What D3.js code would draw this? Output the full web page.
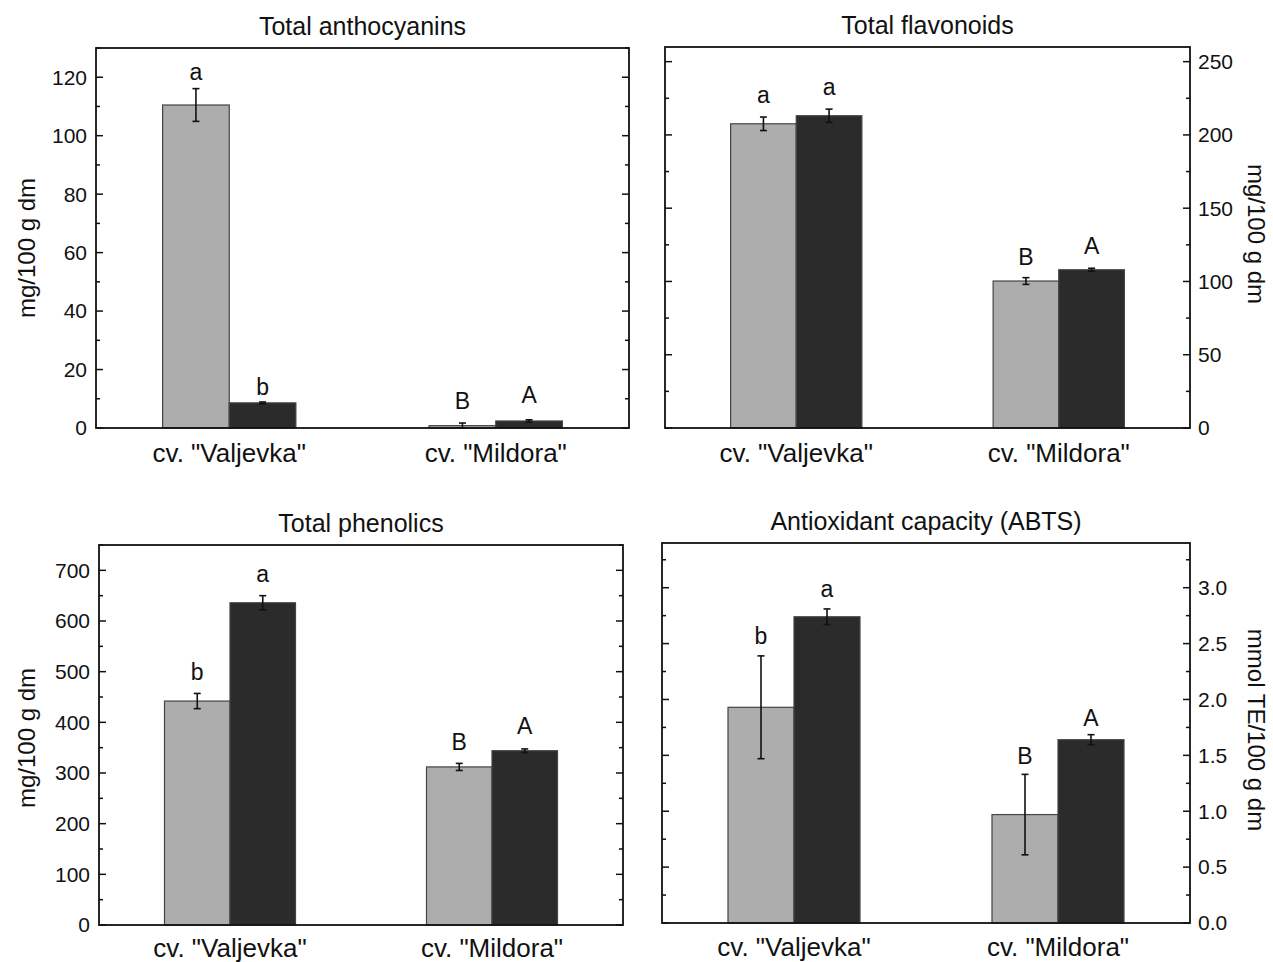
<!DOCTYPE html>
<html><head><meta charset="utf-8">
<script src="https://cdn.jsdelivr.net/npm/d3@7"></script>
<style>
body{margin:0;background:#fff;}
svg{display:block;font-family:"Liberation Sans",Arial,sans-serif;}
</style></head>
<body>
<svg id="c" width="1273" height="962"></svg>
<script>
// ---------- DATA ----------
const categories = ['cv. "Valjevka"', 'cv. "Mildora"'];
const titles = ["Total anthocyanins", "Total flavonoids", "Total phenolics", "Antioxidant capacity (ABTS)"];
const yTitles = ["mg/100 g dm", "mg/100 g dm", "mg/100 g dm", "mmol TE/100 g dm"];

// light (grey) and dark series per panel, values per category
const anthocyaninsLight = [110.5, 0.8];
const anthocyaninsDark  = [8.6, 2.4];
const anthocyaninsLightErr = [5.6, 0.9];
const anthocyaninsDarkErr  = [0.3, 0.4];
const anthocyaninsLetters = [["a", "b"], ["B", "A"]];
const anthocyaninsLetterAt = [[119.2, 11.3], [6.5, 8.5]];

const flavonoidsLight = [207.6, 100.3];
const flavonoidsDark  = [213.1, 108.0];
const flavonoidsLightErr = [4.6, 2.3];
const flavonoidsDarkErr  = [4.5, 1.0];
const flavonoidsLetters = [["a", "a"], ["B", "A"]];
const flavonoidsLetterAt = [[221.8, 227.0], [111.4, 118.5]];

const phenolicsLight = [442, 312];
const phenolicsDark  = [636, 344];
const phenolicsLightErr = [15, 7];
const phenolicsDarkErr  = [14, 3.5];
const phenolicsLetters = [["b", "a"], ["B", "A"]];
const phenolicsLetterAt = [[484, 676], [345, 377]];

const abtsLight = [1.93, 0.97];
const abtsDark  = [2.74, 1.64];
const abtsLightErr = [0.46, 0.36];
const abtsDarkErr  = [0.07, 0.045];
const abtsLetters = [["b", "a"], ["B", "A"]];
const abtsLetterAt = [[2.50, 2.92], [1.425, 1.76]];

const yDomains = [[0, 130], [0, 260], [0, 750], [0, 3.4]];
const yMajor = [20, 50, 100, 0.5];
const yMinor = [10, 25, 50, 0.25];
const yMaxTick = [120, 250, 700, 3.0];

// ---------- LAYOUT ----------
const panels = [
  {x0: 96,  x1: 629,  y0: 48,  y1: 428, side: "left",  light: anthocyaninsLight, dark: anthocyaninsDark, le: anthocyaninsLightErr, de: anthocyaninsDarkErr, letters: anthocyaninsLetters, letterAt: anthocyaninsLetterAt, fmt: d3.format("d"), ytx: 27, yty: 248, catDy: 34},
  {x0: 665, x1: 1190, y0: 47,  y1: 428, side: "right", light: flavonoidsLight, dark: flavonoidsDark, le: flavonoidsLightErr, de: flavonoidsDarkErr, letters: flavonoidsLetters, letterAt: flavonoidsLetterAt, fmt: d3.format("d"), ytx: 1256, yty: 234, catDy: 34},
  {x0: 99,  x1: 623,  y0: 545, y1: 925, side: "left",  light: phenolicsLight, dark: phenolicsDark, le: phenolicsLightErr, de: phenolicsDarkErr, letters: phenolicsLetters, letterAt: phenolicsLetterAt, fmt: d3.format("d"), ytx: 27, yty: 738, catDy: 32},
  {x0: 662, x1: 1190, y0: 543, y1: 923, side: "right", light: abtsLight, dark: abtsDark, le: abtsLightErr, de: abtsDarkErr, letters: abtsLetters, letterAt: abtsLetterAt, fmt: d3.format(".1f"), ytx: 1256, yty: 730, catDy: 33}
];

const svg = d3.select("#c");
const LIGHT = "#adadad", DARK = "#2b2b2b";

panels.forEach((p, i) => {
  const g = svg.append("g");
  const x = d3.scaleLinear().domain([0, 2]).range([p.x0, p.x1]);
  const y = d3.scaleLinear().domain(yDomains[i]).range([p.y1, p.y0]);

  const series = [
    {vals: p.light, errs: p.le, fill: LIGHT, off: 0.25},
    {vals: p.dark,  errs: p.de, fill: DARK,  off: 0.5}
  ];
  series.forEach((s) => {
    s.vals.forEach((v, ci) => {
      g.append("rect")
        .attr("x", x(ci + s.off)).attr("width", x(ci + s.off + 0.25) - x(ci + s.off))
        .attr("y", y(v)).attr("height", y(0) - y(v))
        .attr("fill", s.fill).attr("stroke", "#444").attr("stroke-width", 1.2);
    });
  });
  series.forEach((s, si) => {
    s.vals.forEach((v, ci) => {
      const cx = x(ci + s.off + 0.125);
      const e = s.errs[ci];
      const col = "#111";
      g.append("line").attr("x1", cx).attr("x2", cx).attr("y1", y(v + e)).attr("y2", y(Math.max(0, v - e)))
        .attr("stroke", col).attr("stroke-width", 1.6);
      [v + e, Math.max(0, v - e)].forEach(t => {
        g.append("line").attr("x1", cx - 3.5).attr("x2", cx + 3.5).attr("y1", y(t)).attr("y2", y(t))
          .attr("stroke", col).attr("stroke-width", 1.6);
      });
      g.append("text").attr("x", cx).attr("y", y(p.letterAt[ci][si]))
        .attr("text-anchor", "middle").attr("font-size", 23).attr("fill", "#111")
        .text(p.letters[ci][si]);
    });
  });

  const majors = d3.range(0, yMaxTick[i] + 1e-9, yMajor[i]);
  const minors = d3.range(0, yDomains[i][1] + 1e-9, yMinor[i]).filter(v => !majors.some(m => Math.abs(m - v) < 1e-9));
  [p.x0, p.x1].forEach((sx, k) => {
    const dir = k === 0 ? 1 : -1;
    majors.forEach(v => g.append("line").attr("x1", sx).attr("x2", sx + dir * 7).attr("y1", y(v)).attr("y2", y(v)).attr("stroke", "#111").attr("stroke-width", 1.5));
    minors.forEach(v => g.append("line").attr("x1", sx).attr("x2", sx + dir * 4).attr("y1", y(v)).attr("y2", y(v)).attr("stroke", "#111").attr("stroke-width", 1.5));
  });

  majors.forEach(v => {
    g.append("text")
      .attr("x", p.side === "left" ? p.x0 - 9 : p.x1 + 8)
      .attr("y", y(v)).attr("dy", "0.35em")
      .attr("text-anchor", p.side === "left" ? "end" : "start")
      .attr("font-size", 21).attr("fill", "#111")
      .text(p.fmt(v));
  });

  g.append("rect").attr("x", p.x0).attr("y", p.y0).attr("width", p.x1 - p.x0).attr("height", p.y1 - p.y0)
    .attr("fill", "none").attr("stroke", "#111").attr("stroke-width", 1.8);

  categories.forEach((c, ci) => {
    g.append("text").attr("x", x(ci + 0.5)).attr("y", p.y1 + p.catDy)
      .attr("text-anchor", "middle").attr("font-size", 26).attr("fill", "#111").text(c);
  });

  g.append("text").attr("x", (p.x0 + p.x1) / 2).attr("y", p.y0 - 13)
    .attr("text-anchor", "middle").attr("font-size", 25).attr("fill", "#111").text(titles[i]);

  g.append("text")
    .attr("transform", `translate(${p.ytx},${p.yty}) rotate(${p.side === "left" ? -90 : 90})`)
    .attr("text-anchor", "middle").attr("dy", "0.35em")
    .attr("font-size", 24).attr("fill", "#111").text(yTitles[i]);
});
</script>
</body></html>
